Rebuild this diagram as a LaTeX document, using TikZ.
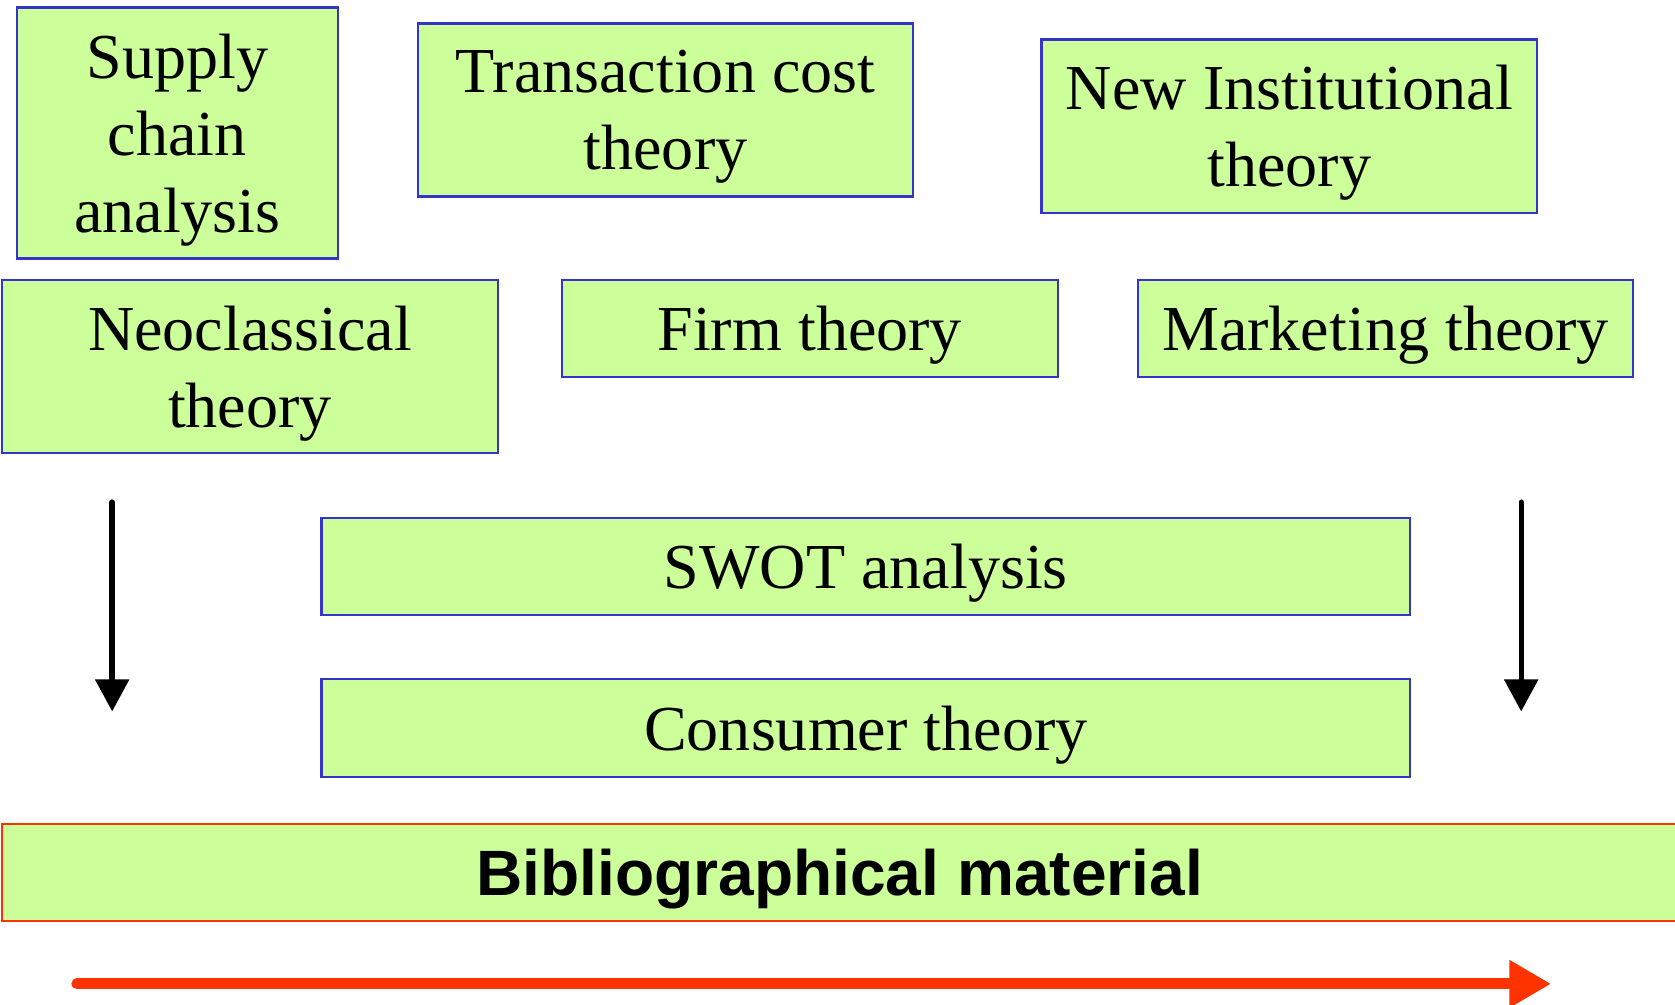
\documentclass[tikz,border=0pt]{standalone}
\usepackage{fontspec}
\setmainfont{Liberation Serif}
\newfontfamily\biblfont{Liberation Sans}
\usetikzlibrary{arrows.meta}
\definecolor{boxfill}{HTML}{CCFF99}
\definecolor{boxline}{HTML}{3535CC}
\definecolor{redline}{HTML}{FF3300}

\begin{document}
\begin{tikzpicture}[x=0.5pt, y=-0.5pt]
	\tikzset{theory box/.style={draw=boxline, fill=boxfill, line width=1pt, inner sep=0pt, text depth=0pt, align=center, font=\fontsize{30pt}{36pt}\selectfont, minimum width=232pt, minimum height=81pt}}
	\tikzset{down arrow/.style={line width=2.5pt, black, line cap=round, -{Triangle[width=15.5pt, length=15pt]}}}
	\useasboundingbox (0, 0) rectangle (1568, 940);
	% \draw (0, 0) grid (1568, 940);
	\node [theory box, minimum width=150pt, minimum height=117.5pt] (supply) at (166, 124.5) {Supply\\chain\\analysis};
	\node [theory box] (transaction) at (623, 103) {Transaction cost\\theory};
	\node [theory box] (newinst) at (1207, 118) {New Institutional\\theory};
	\node [theory box] (neoclassical) at (234, 343) {Neoclassical\\theory};
	\node [theory box, minimum height=45.5pt] (firm) at (758, 307.5) {Firm theory};
	\node [theory box, minimum height=45.5pt] (marketing) at (1297, 307.5) {Marketing theory};
	\node [theory box, minimum width=509.5pt, minimum height=45.5pt] (swot) at (810.5, 530.5) {SWOT analysis};
	\node [theory box, minimum width=509.5pt, minimum height=45.5pt] (consumer) at (810.5, 681.5) {Consumer theory};
	\node [theory box, draw=redline, minimum width=784pt, minimum height=45.5pt, font=\biblfont\bfseries\fontsize{30pt}{36pt}\selectfont] (biblio) at (786, 816.5) {Bibliographical material};
	\coordinate (left top) at (105, 470);
	\coordinate (left end) at (105, 666);
	\coordinate (right top) at (1424, 470);
	\coordinate (right end) at (1424, 666);
	\coordinate (time start) at (72, 921);
	\coordinate (time end) at (1452, 921);
	\draw [down arrow] (left top) -- (left end);
	\draw [down arrow] (right top) -- (right end);
	\draw [redline, line width=5.15pt, line cap=round, -{Triangle[width=21pt, length=19.5pt]}] (time start) -- (time end);
\end{tikzpicture}
\end{document}
